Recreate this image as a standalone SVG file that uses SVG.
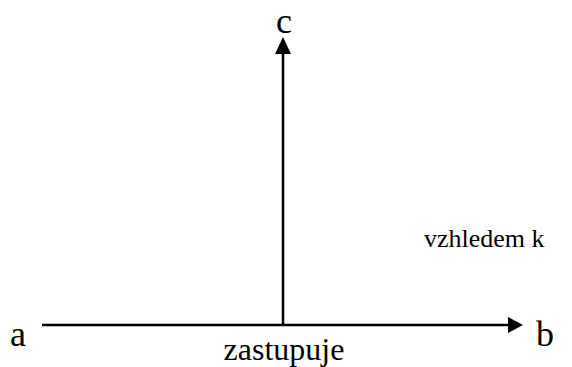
<svg xmlns="http://www.w3.org/2000/svg" width="572" height="367" viewBox="0 0 572 367">
<style>
text{font-family:'Liberation Serif','Times New Roman',serif;fill:#000}
.big{font-size:36px}
.mid{font-size:32px}
.small{font-size:26px}
.ln{stroke:#000;stroke-width:2.5;fill:none}
</style>
<rect width="572" height="367" fill="#fff"/>
<g id="connectors">
<line class="ln" x1="42" y1="325" x2="510" y2="325"/>
<polygon points="508,317 523,325 508,333" fill="#000"/>
<line class="ln" x1="283" y1="325" x2="283" y2="51"/>
<polygon points="275,54 283,37 291,54" fill="#000"/>
</g>
<g id="node-a"><text class="big" x="10" y="346">a</text></g>
<g id="node-b"><text class="big" x="536" y="346">b</text></g>
<g id="node-c"><text class="big" x="284" y="33" text-anchor="middle">c</text></g>
<g id="label-zastupuje"><text class="mid" x="284" y="360" text-anchor="middle">zastupuje</text></g>
<g id="label-vzhledem"><text class="small" x="424" y="247">vzhledem k</text></g>
</svg>
